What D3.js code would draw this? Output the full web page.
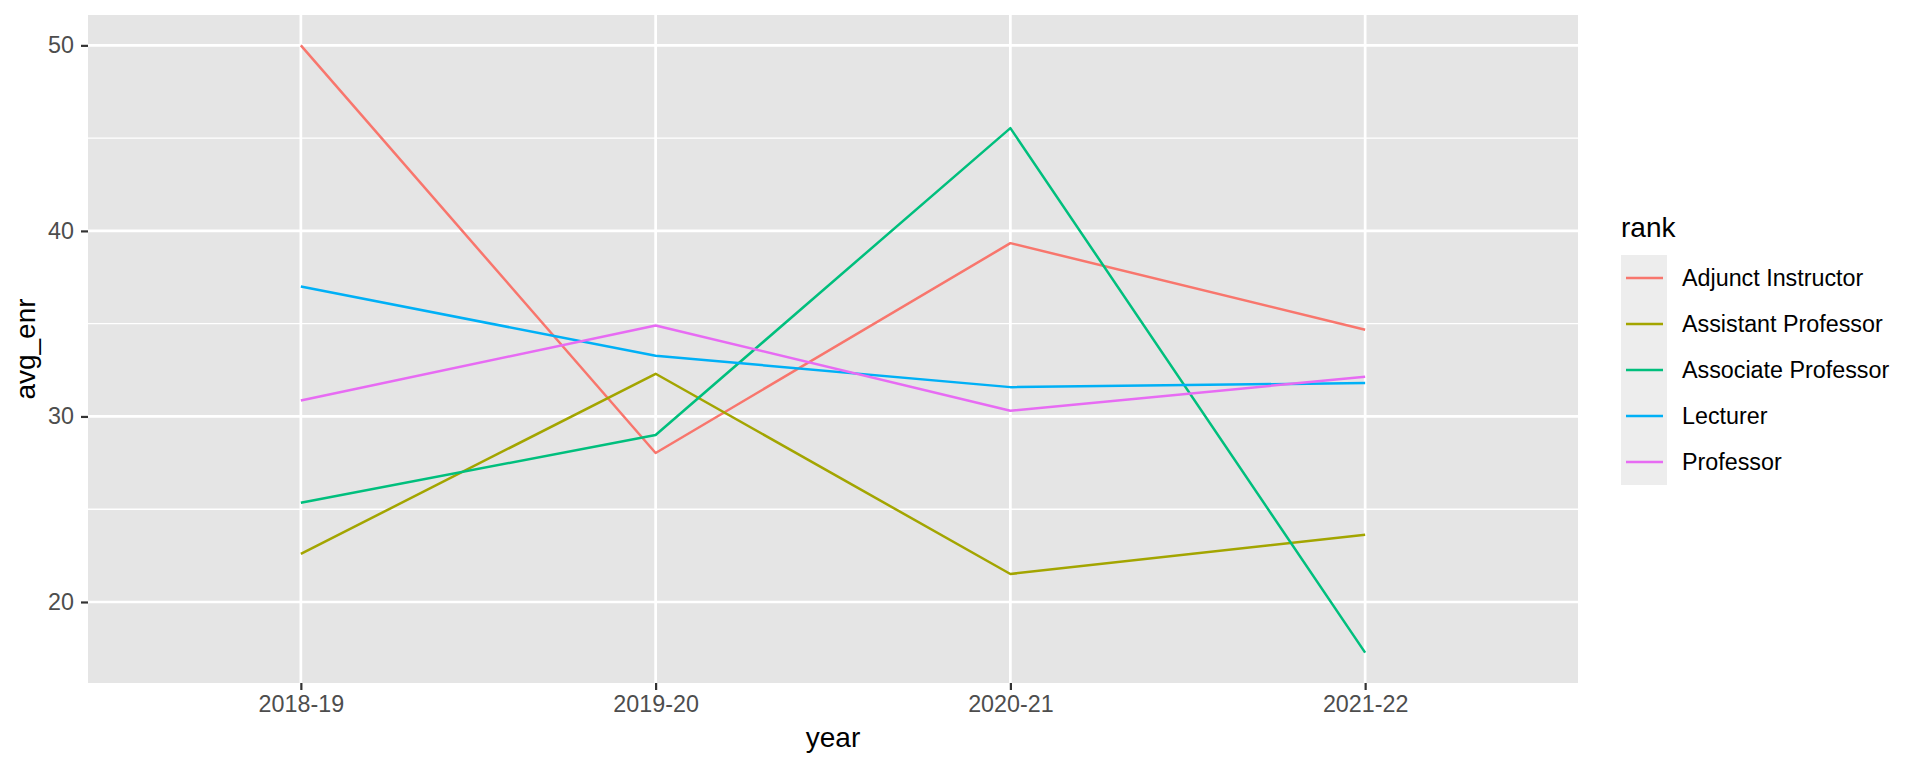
<!DOCTYPE html>
<html>
<head>
<meta charset="utf-8">
<script src="https://cdn.jsdelivr.net/npm/d3@7"></script>
<style>
  html, body { margin: 0; padding: 0; background: #ffffff; }
  svg { display: block; font-family: "Liberation Sans", Arial, sans-serif; }
</style>
</head>
<body>
<svg id="chart" width="1920" height="768"></svg>
<script>
// ---- data ----
const years = ["2018-19", "2019-20", "2020-21", "2021-22"];
const ranks = ["Adjunct Instructor", "Assistant Professor", "Associate Professor", "Lecturer", "Professor"];
const adjunctInstructor  = [50.0, 28.03, 39.34, 34.67];
const assistantProfessor = [22.59, 32.3, 21.51, 23.62];
const associateProfessor = [25.35, 29.0, 45.54, 17.27];
const lecturer           = [37.0, 33.27, 31.58, 31.8];
const professor          = [30.86, 34.9, 30.31, 32.14];
const yTicks = [20, 30, 40, 50];
const yMinorTicks = [25, 35, 45];
const colors = ["#F8766D", "#A3A500", "#00BF7D", "#00B0F6", "#E76BF3"];

const seriesValues = [adjunctInstructor, assistantProfessor, associateProfessor, lecturer, professor];
const series = ranks.map((r, i) => ({
  rank: r,
  color: colors[i],
  points: years.map((y, j) => ({ year: y, value: seriesValues[i][j] }))
}));

// ---- layout ----
const panel = { left: 88, right: 1578, top: 15, bottom: 683 };
const svg = d3.select("#chart");

// discrete x with 0.6 expansion each side
const x = d3.scalePoint()
  .domain(years)
  .range([panel.left, panel.right])
  .padding(0.6);

const allVals = seriesValues.flat();
const vmin = d3.min(allVals), vmax = d3.max(allVals);
const pad = (vmax - vmin) * 0.05;
const y = d3.scaleLinear()
  .domain([vmin - pad, vmax + pad])
  .range([panel.bottom, panel.top]);

// panel background
svg.append("rect")
  .attr("x", panel.left).attr("y", panel.top)
  .attr("width", panel.right - panel.left)
  .attr("height", panel.bottom - panel.top)
  .attr("fill", "#E5E5E5");

// minor gridlines
svg.append("g").selectAll("line").data(yMinorTicks).join("line")
  .attr("x1", panel.left).attr("x2", panel.right)
  .attr("y1", d => y(d)).attr("y2", d => y(d))
  .attr("stroke", "#FFFFFF").attr("stroke-width", 1.4);

// major gridlines
svg.append("g").selectAll("line").data(yTicks).join("line")
  .attr("x1", panel.left).attr("x2", panel.right)
  .attr("y1", d => y(d)).attr("y2", d => y(d))
  .attr("stroke", "#ffffff").attr("stroke-width", 2.7);
svg.append("g").selectAll("line").data(years).join("line")
  .attr("y1", panel.top).attr("y2", panel.bottom)
  .attr("x1", d => x(d)).attr("x2", d => x(d))
  .attr("stroke", "#ffffff").attr("stroke-width", 2.7);

// lines
const line = d3.line().x(d => x(d.year)).y(d => y(d.value));
svg.append("g").selectAll("path").data(series).join("path")
  .attr("d", d => line(d.points))
  .attr("fill", "none")
  .attr("stroke", d => d.color)
  .attr("stroke-width", 2.5)
  .attr("stroke-linejoin", "round");

// y axis
const yAxis = d3.axisLeft(y).tickValues(yTicks).tickSize(7).tickPadding(7).tickFormat(d3.format("d"));
const gy = svg.append("g").attr("transform", `translate(${panel.left},0)`).call(yAxis);
gy.select(".domain").remove();
gy.selectAll(".tick line").attr("stroke", "#333333").attr("stroke-width", 2.2);
gy.selectAll(".tick text").attr("fill", "#4D4D4D").attr("font-size", 23.3)
  .attr("font-family", "Liberation Sans, Arial, sans-serif");

// x axis
const xAxis = d3.axisBottom(x).tickSize(7).tickPadding(5);
const gx = svg.append("g").attr("transform", `translate(0,${panel.bottom})`).call(xAxis);
gx.select(".domain").remove();
gx.selectAll(".tick line").attr("stroke", "#333333").attr("stroke-width", 2.2);
gx.selectAll(".tick text").attr("fill", "#4D4D4D").attr("font-size", 23.3)
  .attr("font-family", "Liberation Sans, Arial, sans-serif");

// axis titles
svg.append("text")
  .attr("x", (panel.left + panel.right) / 2).attr("y", 747)
  .attr("text-anchor", "middle").attr("font-size", 28).attr("fill", "#000")
  .text("year");
svg.append("text")
  .attr("transform", `translate(35,${(panel.top + panel.bottom) / 2}) rotate(-90)`)
  .attr("text-anchor", "middle").attr("font-size", 28).attr("fill", "#000")
  .text("avg_enr");

// legend
const lg = svg.append("g");
lg.append("text").attr("x", 1621).attr("y", 237)
  .attr("font-size", 28).attr("fill", "#000").text("rank");
const keyTop = 255, keyH = 46;
lg.append("rect").attr("x", 1621).attr("y", keyTop)
  .attr("width", 46).attr("height", keyH * ranks.length)
  .attr("fill", "#EDEDED");
const items = lg.selectAll("g.item").data(series).join("g").attr("class", "item")
  .attr("transform", (d, i) => `translate(0,${keyTop + keyH * i + keyH / 2})`);
items.append("line")
  .attr("x1", 1626).attr("x2", 1663).attr("y1", 0).attr("y2", 0)
  .attr("stroke", d => d.color).attr("stroke-width", 2.5);
items.append("text")
  .attr("x", 1682).attr("y", 8.4)
  .attr("font-size", 23.3).attr("fill", "#000")
  .text(d => d.rank);
</script>
</body>
</html>
